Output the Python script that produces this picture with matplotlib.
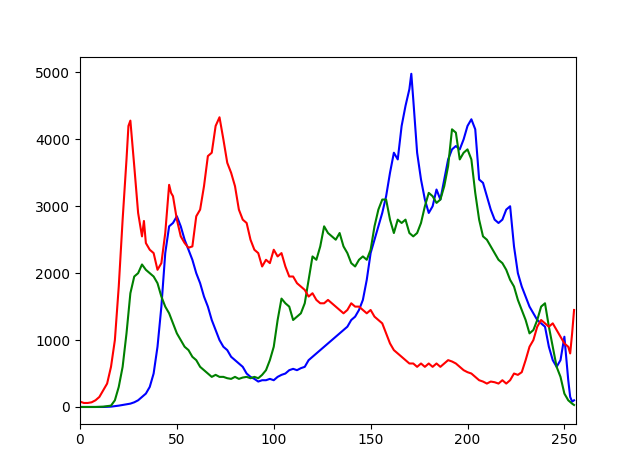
import matplotlib
matplotlib.use("Agg")
import matplotlib.pyplot as plt

red_x = [0,2,4,6,8,10,12,14,16,18,20,22,24,25,26,28,30,32,33,34,36,38,40,42,44,46,47,48,50,52,54,56,58,60,62,64,66,68,70,72,74,76,78,80,82,84,86,88,90,92,94,96,98,100,102,104,106,108,110,112,114,116,118,120,122,124,126,128,130,132,134,136,138,140,142,144,146,148,150,152,154,156,158,160,162,164,166,168,170,172,174,176,178,180,182,184,186,188,190,192,194,196,198,200,202,204,206,208,210,212,214,216,218,220,222,224,226,228,230,232,234,236,238,240,242,244,246,248,250,252,253,254,255]
red_y = [80,60,60,70,100,150,250,350,600,1000,1800,2800,3700,4200,4280,3600,2900,2550,2780,2450,2350,2300,2050,2150,2600,3320,3200,3150,2800,2550,2450,2380,2400,2850,2950,3300,3750,3800,4200,4330,4000,3650,3500,3300,2950,2800,2750,2500,2350,2300,2100,2200,2150,2350,2250,2300,2100,1950,1950,1850,1800,1750,1650,1700,1600,1550,1550,1600,1550,1500,1450,1400,1450,1550,1500,1500,1450,1400,1450,1350,1300,1250,1100,950,850,800,750,700,650,650,600,650,600,650,600,650,600,650,700,680,650,600,550,520,500,450,400,380,350,380,370,350,400,350,400,500,480,520,700,900,1000,1200,1300,1250,1200,1250,1150,1050,950,900,800,1100,1450]

green_x = [0,4,8,12,16,18,20,22,24,26,28,30,32,34,36,38,40,42,44,46,48,50,52,54,56,58,60,62,64,66,68,70,72,74,76,78,80,82,84,86,88,90,92,94,96,98,100,102,104,106,108,110,112,114,116,118,120,122,124,126,128,130,132,134,136,138,140,142,144,146,148,150,152,154,156,158,160,162,164,166,168,170,172,174,176,178,180,182,184,186,188,190,192,194,196,198,200,202,204,206,208,210,212,214,216,218,220,222,224,226,228,230,232,234,236,238,240,242,244,246,248,250,252,254,255]
green_y = [0,0,0,5,20,100,300,600,1100,1700,1950,2000,2130,2050,2000,1950,1850,1650,1500,1400,1250,1100,1000,900,850,750,700,600,550,500,450,480,450,450,430,420,450,420,440,450,430,450,430,480,550,700,900,1300,1620,1550,1500,1300,1350,1400,1550,1900,2250,2200,2400,2700,2600,2550,2500,2600,2400,2300,2150,2100,2200,2250,2200,2350,2700,2950,3100,3100,2800,2600,2800,2750,2800,2600,2550,2600,2750,3000,3200,3150,3050,3100,3300,3600,4150,4100,3700,3800,3850,3700,3200,2800,2550,2500,2400,2300,2200,2150,2050,1900,1800,1600,1450,1300,1100,1150,1300,1500,1550,1200,900,600,450,200,100,50,30]

blue_x = [0,4,8,12,16,20,22,24,26,28,30,32,34,36,38,40,42,44,46,48,50,52,54,56,58,60,62,64,66,68,70,72,74,76,78,80,82,84,86,88,90,92,94,96,98,100,102,104,106,108,110,112,114,116,118,120,122,124,126,128,130,132,134,136,138,140,142,144,146,148,150,152,154,156,158,160,162,164,166,168,170,171,172,174,176,178,180,182,184,186,188,190,192,194,196,198,200,202,204,206,208,210,212,214,216,218,220,222,224,226,228,230,232,234,236,238,240,242,244,246,248,250,252,253,254,255]
blue_y = [0,0,0,0,5,20,30,40,50,70,100,150,200,300,500,900,1500,2300,2700,2750,2850,2700,2500,2350,2200,2000,1850,1650,1500,1300,1150,1000,900,850,750,700,650,600,500,450,420,380,400,400,420,400,450,480,500,550,570,550,580,600,700,750,800,850,900,950,1000,1050,1100,1150,1200,1300,1350,1450,1600,1900,2300,2500,2700,2900,3150,3500,3800,3700,4200,4500,4750,4980,4600,3800,3400,3100,2900,3000,3250,3100,3400,3700,3850,3900,3850,4000,4200,4300,4150,3400,3350,3150,2950,2800,2750,2800,2950,3000,2400,2000,1800,1650,1500,1400,1300,1250,1200,900,700,600,700,1050,400,150,80,100]

fig = plt.figure(figsize=(6.4, 4.76), dpi=100)
plt.plot(blue_x, blue_y, color='b')
plt.plot(green_x, green_y, color='g')
plt.plot(red_x, red_y, color='r')
plt.xlim([0, 256])
plt.savefig("out.png")
